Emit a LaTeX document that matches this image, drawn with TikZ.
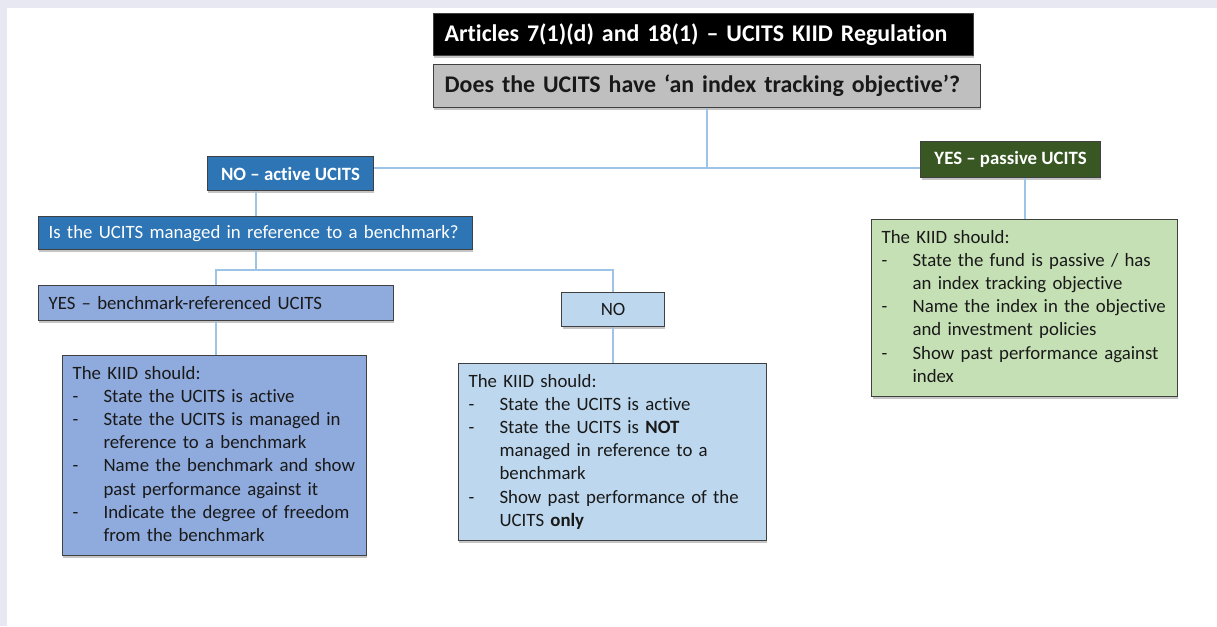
\documentclass[tikz,border=0pt]{standalone}
\usepackage{fontspec}
\setmainfont[Ligatures=NoCommon]{Carlito}
\usetikzlibrary{shadows}
\definecolor{framebg}{RGB}{232,232,243}
\definecolor{questiongray}{RGB}{191,191,191}
\definecolor{activeblue}{RGB}{46,117,182}
\definecolor{passivegreen}{RGB}{56,87,35}
\definecolor{benchblue}{RGB}{143,170,220}
\definecolor{paleblue}{RGB}{189,215,238}
\definecolor{palegreen}{RGB}{197,224,180}
\definecolor{linkblue}{RGB}{157,195,230}
\newlength{\kiidindent}
\setlength{\kiidindent}{0.62cm}
\newcommand{\kiiddash}{\makebox[\kiidindent][l]{-}}
\newcommand{\kiidmore}{\hspace*{\kiidindent}}
\hyphenpenalty=10000
\begin{document}
\begin{tikzpicture}[x=0.02cm, y=-0.02cm]
      \tikzset{
	  box/.style={rectangle, draw=black!75, line width=0.7pt, anchor=north west, inner sep=0pt, text=black!90, font=\fontsize{10.7}{13.2}\selectfont, drop shadow={shadow xshift=0.5pt, shadow yshift=-1.3pt, fill=black!45}},
	  leftbox/.style={box, execute at begin node=\raggedright},
	  headbox/.style={leftbox, fill=black, text=white, font=\fontsize{13.6}{16}\selectfont\bfseries, inner xsep=0.22cm},
	  questionbox/.style={leftbox, fill=questiongray, font=\fontsize{13.6}{16}\selectfont\bfseries, inner xsep=0.22cm},
	  answer/.style={box, text=white, font=\fontsize{10.7}{13.2}\selectfont\bfseries, align=center},
	  labelbox/.style={leftbox, inner xsep=0.2cm},
	  kiid/.style={leftbox, inner xsep=0.2cm},
	  link/.style={draw=linkblue, line width=1.1pt}
      }

      \fill[framebg] (0,0) rectangle (1217,626);
      \fill[white] (7,8) rectangle (1217,626);
      \useasboundingbox (0,0) rectangle (1217,626);

      \node[headbox, text width=10.36cm, minimum height=0.84cm] (regulation) at (433,13) {\mbox{Articles 7(1)(d) and 18(1) – UCITS KIID Regulation}};
      \node[questionbox, text width=10.5cm, minimum height=0.86cm] (tracking) at (433,64) {\mbox{Does the UCITS have ‘an index tracking objective’?}};
      \node[answer, fill=activeblue, minimum width=3.32cm, minimum height=0.68cm] (activeucits) at (207,156) {NO – active UCITS};
      \node[answer, fill=passivegreen, minimum width=3.6cm, minimum height=0.72cm] (passiveucits) at (920,141) {YES – passive UCITS};
      \node[labelbox, fill=activeblue, text=white, text width=8.28cm, minimum height=0.66cm] (benchmarkq) at (38,216) {\mbox{Is the UCITS managed in reference to a benchmark?}};
      \node[labelbox, fill=benchblue, text width=6.7cm, minimum height=0.7cm] (benchyes) at (38,285) {\mbox{YES – benchmark-referenced UCITS}};
      \node[answer, fill=paleblue, text=black!90, font=\fontsize{10.7}{13.2}\selectfont, minimum width=2.06cm, minimum height=0.68cm] (benchno) at (561,292) {NO};

      \node[kiid, fill=benchblue, text width=5.68cm, minimum height=4cm] (kiidbench) at (62,355) {\begin{tabular}{@{}l@{}}
        The KIID should:\\
        \kiiddash State the UCITS is active\\
        \kiiddash State the UCITS is managed in\\
        \kiidmore reference to a benchmark\\
        \kiiddash Name the benchmark and show\\
        \kiidmore past performance against it\\
        \kiiddash Indicate the degree of freedom\\
        \kiidmore from the benchmark
      \end{tabular}};
      \node[kiid, fill=paleblue, text width=5.76cm, minimum height=3.54cm] (kiidno) at (458,363) {\begin{tabular}{@{}l@{}}
        The KIID should:\\
        \kiiddash State the UCITS is active\\
        \kiiddash State the UCITS is \textbf{NOT}\\
        \kiidmore managed in reference to a\\
        \kiidmore benchmark\\
        \kiiddash Show past performance of the\\
        \kiidmore UCITS \textbf{only}
      \end{tabular}};
      \node[kiid, fill=palegreen, text width=5.72cm, minimum height=3.54cm] (kiidpassive) at (871,219) {\begin{tabular}{@{}l@{}}
        The KIID should:\\
        \kiiddash State the fund is passive / has\\
        \kiidmore an index tracking objective\\
        \kiiddash Name the index in the objective\\
        \kiidmore and investment policies\\
        \kiiddash Show past performance against\\
        \kiidmore index
      \end{tabular}};

      \coordinate (split) at (706,168);
      \coordinate (fork) at (256,270);
      \draw[link] (tracking.south) -- (tracking.south |- split);
      \draw[link] (activeucits.east |- split) -- (passiveucits.west |- split);
      \draw[link] (benchmarkq.north) -- (benchmarkq.north |- activeucits.south);
      \draw[link] (benchmarkq.south) -- (benchmarkq.south |- fork);
      \draw[link] (benchyes.north) |- (fork) -| (benchno.north);
      \draw[link] (benchyes.south) -- (benchyes.south |- kiidbench.north);
      \draw[link] (benchno.south) -- (benchno.south |- kiidno.north);
      \draw[link] (kiidpassive.north) -- (kiidpassive.north |- passiveucits.south);
\end{tikzpicture}
\end{document}
